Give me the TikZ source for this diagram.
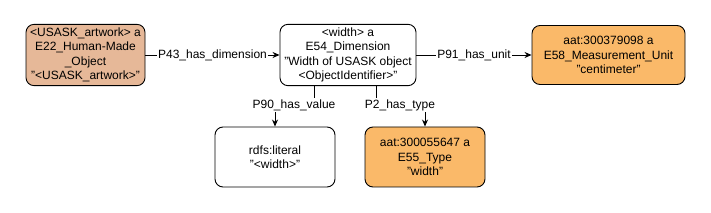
\documentclass[tikz,border=0pt]{standalone}
\usepackage{fontspec}
\setmainfont{Liberation Sans}
\usetikzlibrary{arrows.meta,positioning}

\begin{document}
\begin{tikzpicture}[
  x=1pt, y=-1pt,
  font=\fontsize{12}{14.5}\selectfont,
  >={Stealth[length=7pt, width=6pt]},
  entity/.style={draw, rounded corners=8pt, align=center, line width=0.9pt, minimum height=59pt},
  rel/.style={fill=white, inner sep=1pt},
  link/.style={->, line width=0.9pt}
]

\definecolor{ctan}{RGB}{230,184,152}
\definecolor{corange}{RGB}{250,185,105}

\useasboundingbox (0,0) rectangle (711,213);

% Top row
\node[entity, fill=ctan, minimum width=119pt] (art) at (85.5,55) {<USASK\_artwork> a\\E22\_Human-Made\\\_Object\\"<USASK\_artwork>"};
\node[entity, minimum width=136pt] (dim) at (348,55) {<width> a\\E54\_Dimension\\"Width of USASK object\\<ObjectIdentifier>"};
\node[entity, fill=corange, minimum width=153pt] (unit) at (608.5,55) {aat:300379098 a\\E58\_Measurement\_Unit\\"centimeter"};

% Bottom row
\node[entity, minimum width=120pt, minimum height=60pt] (lit) at (275,157) {rdfs:literal\\"<width>"};
\node[entity, fill=corange, minimum width=120pt, minimum height=60pt] (type) at (425,157) {aat:300055647 a\\E55\_Type\\"width"};

% Connectors
\draw[link] (art) -- node[rel] {P43\_has\_dimension} (dim);
\draw[link] (dim) -- node[rel] {P91\_has\_unit} (unit);

\coordinate (v90) at (294,105);
\coordinate (v2) at (400,105);
\draw[link] ([xshift=-34pt]dim.south) |- (v90) -| (lit.north);
\draw[link] ([xshift=28pt]dim.south) |- (v2) -| (type.north);
\node[rel] at (v90) {P90\_has\_value};
\node[rel] at (v2) {P2\_has\_type};

\end{tikzpicture}
\end{document}
